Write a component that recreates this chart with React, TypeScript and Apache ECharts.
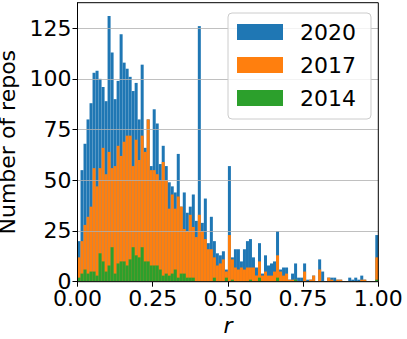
import React, { useEffect, useRef } from "react";
import * as echarts from "echarts";

// 100 histogram bins on r in [0, 1]
const binLabels: string[] = Array.from({ length: 100 }, (_, i) => (i / 100).toFixed(2));

const counts2020: number[] = [
  20, 55, 68, 80, 88, 103, 104, 100, 96, 89,
  131, 113, 90, 99, 122, 108, 105, 101, 94, 98,
  80, 107, 66, 80, 57, 85, 78, 58, 67, 57,
  49, 47, 44, 63, 37, 44, 34, 37, 43, 30,
  126, 29, 41, 19, 32, 20, 14, 13, 15, 6,
  57, 12, 16, 16, 10, 16, 20, 21, 12, 7,
  19, 4, 13, 8, 9, 10, 25, 6, 7, 7,
  1, 4, 9, 2, 2, 9, 1, 1, 3, 0,
  11, 5, 0, 2, 2, 2, 1, 1, 0, 0,
  2, 1, 2, 1, 3, 1, 0, 0, 0, 23,
];

const counts2017: number[] = [
  12, 20, 28, 32, 37, 56, 47, 56, 66, 53,
  64, 56, 57, 67, 62, 69, 72, 72, 57, 70,
  60, 72, 64, 80, 55, 55, 53, 50, 59, 50,
  36, 43, 36, 42, 37, 26, 25, 33, 27, 22,
  33, 25, 21, 16, 16, 12, 8, 9, 11, 5,
  23, 11, 7, 6, 7, 6, 7, 7, 7, 3,
  10, 3, 5, 3, 3, 5, 13, 5, 3, 4,
  1, 1, 1, 0, 0, 5, 0, 1, 3, 0,
  6, 0, 0, 2, 1, 0, 1, 1, 0, 0,
  0, 0, 0, 0, 1, 1, 0, 0, 0, 12,
];

const counts2014: number[] = [
  2, 4, 6, 4, 5, 5, 3, 14, 10, 5,
  8, 17, 4, 9, 10, 10, 8, 11, 17, 13,
  12, 17, 10, 10, 8, 8, 8, 6, 3, 4,
  3, 4, 6, 2, 4, 4, 2, 2, 2, 0,
  0, 0, 0, 0, 0, 2, 0, 0, 0, 2,
  0, 1, 0, 0, 0, 0, 0, 1, 0, 0,
  2, 0, 0, 0, 0, 0, 2, 0, 0, 0,
  0, 0, 1, 0, 0, 0, 0, 0, 0, 0,
  0, 0, 0, 0, 0, 0, 0, 0, 0, 0,
  0, 0, 0, 0, 0, 0, 0, 0, 0, 1,
];

const seriesNames: string[] = ["2020", "2017", "2014"];
const seriesColors: string[] = ["#1f77b4", "#ff7f0e", "#2ca02c"];
const yTicks: number[] = [0, 25, 50, 75, 100, 125];
const xTickLabels: string[] = ["0.00", "0.25", "0.50", "0.75", "1.00"];

const FONT = "DejaVu Sans";

export default function App() {
  const ref = useRef<HTMLDivElement>(null);

  useEffect(() => {
    if (!ref.current) return;
    const chart = echarts.init(ref.current, undefined, { renderer: "svg" });
    const data = [counts2020, counts2017, counts2014];
    const option: any = {
      animation: false,
      textStyle: { fontFamily: FONT },
      grid: {
        left: 77.5,
        right: 28.7,
        top: 2.7,
        bottom: 57.3,
        containLabel: false,
        outerBoundsMode: "none",
        show: true,
        borderColor: "#000",
        borderWidth: 1,
        backgroundColor: "transparent",
        z: 5,
      },
      legend: {
        orient: "vertical",
        left: 228,
        top: 13,
        padding: [8, 15, 10, 9],
        itemWidth: 46,
        itemHeight: 16,
        itemGap: 11,
        icon: "rect",
        borderColor: "#cccccc",
        borderWidth: 1,
        borderRadius: 4,
        backgroundColor: "rgba(255,255,255,0.8)",
        textStyle: {
          fontSize: 22,
          color: "#000",
          fontFamily: FONT,
          lineHeight: 22,
          padding: [0, 0, 0, 12],
        },
        data: seriesNames,
      },
      xAxis: [
        {
          type: "category",
          data: binLabels,
          show: false,
          position: "top",
          boundaryGap: true,
        },
        {
          type: "value",
          position: "bottom",
          min: 0,
          max: 1,
          interval: 0.25,
          axisLine: { show: true, lineStyle: { color: "#000", width: 1 } },
          axisTick: { show: true, length: 5, lineStyle: { color: "#000", width: 1 } },
          axisLabel: {
            fontSize: 22,
            color: "#000",
            fontFamily: FONT,
            margin: 6,
            formatter: (v: number) => xTickLabels[Math.round(v / 0.25)] ?? "",
          },
          splitLine: { show: false },
          name: "r",
          nameLocation: "middle",
          nameGap: 30,
          nameTextStyle: { fontSize: 22, fontStyle: "italic", color: "#000", fontFamily: FONT },
        },
      ],
      yAxis: {
        type: "value",
        min: 0,
        max: 137.55,
        interval: 25,
        z: 3,
        axisLine: { show: true, lineStyle: { color: "#000", width: 1 } },
        axisTick: { show: true, length: 5, lineStyle: { color: "#000", width: 1 }, customValues: yTicks },
        axisLabel: {
          fontSize: 22,
          color: "#000",
          fontFamily: FONT,
          margin: 6,
          customValues: yTicks,
          formatter: (v: number) => (yTicks.includes(v) ? String(v) : ""),
        },
        splitLine: { show: true, lineStyle: { color: "#b0b0b0", width: 0.8 } },
        name: "Number of repos",
        nameLocation: "middle",
        nameGap: 48,
        nameTextStyle: { fontSize: 22, lineHeight: 22, color: "#000", fontFamily: FONT },
      },
      series: seriesNames.map((name, i) => ({
        name,
        type: "bar",
        xAxisIndex: 0,
        yAxisIndex: 0,
        data: data[i],
        barGap: "-100%",
        barCategoryGap: "0%",
        itemStyle: { color: seriesColors[i] },
      })),
    };
    chart.setOption(option);
    return () => chart.dispose();
  }, []);

  return (
    <div
      ref={ref}
      style={{ position: "fixed", left: 0, top: 0, width: 407, height: 339, background: "#fff" }}
    />
  );
}
